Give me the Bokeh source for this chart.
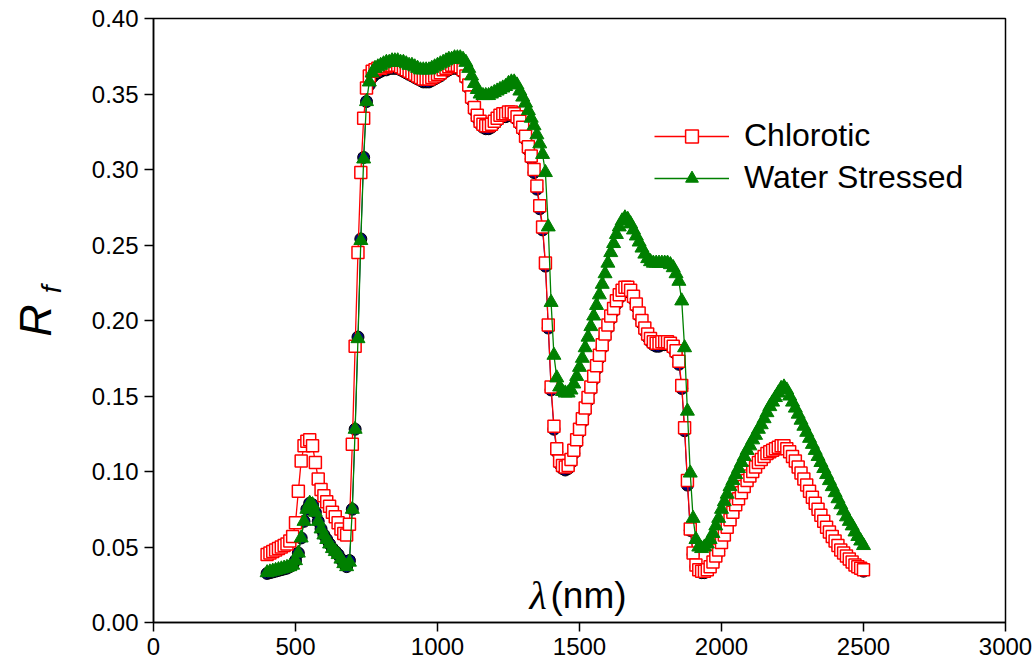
from bokeh.plotting import figure
from bokeh.models import (Range1d, Label, Legend, LegendItem, FixedTicker,
                          NumeralTickFormatter, LinearAxis)
from bokeh.embed import file_html
from bokeh.resources import INLINE

# wavelength grid (nm)
wavelength = list(range(400, 2501, 10))

chlorotic = [
    0.045, 0.046, 0.047, 0.048, 0.049, 0.050, 0.051, 0.052, 0.054, 0.057,
    0.066, 0.087, 0.107, 0.117, 0.120, 0.121, 0.117, 0.106, 0.095, 0.088,
    0.084, 0.080, 0.077, 0.073, 0.070, 0.066, 0.062, 0.059, 0.058, 0.065,
    0.118, 0.183, 0.245, 0.298, 0.334, 0.354, 0.362, 0.365, 0.366, 0.367,
    0.367, 0.368, 0.368, 0.369, 0.369, 0.369, 0.369, 0.368, 0.367, 0.366,
    0.365, 0.364, 0.363, 0.362, 0.361, 0.360, 0.360, 0.360, 0.361, 0.362,
    0.363, 0.364, 0.366, 0.367, 0.368, 0.369, 0.369, 0.369, 0.368, 0.366,
    0.362, 0.356, 0.348, 0.341, 0.336, 0.332, 0.330, 0.329, 0.329, 0.330,
    0.332, 0.334, 0.336, 0.337, 0.337, 0.338, 0.338, 0.337, 0.335, 0.332,
    0.328, 0.322, 0.315, 0.309, 0.300, 0.289, 0.276, 0.262, 0.238, 0.197,
    0.156, 0.130, 0.115, 0.107, 0.104, 0.103, 0.104, 0.108, 0.114, 0.121,
    0.128, 0.135, 0.142, 0.149, 0.156, 0.163, 0.170, 0.177, 0.184, 0.191,
    0.197, 0.203, 0.208, 0.213, 0.217, 0.220, 0.222, 0.222, 0.220, 0.216,
    0.211, 0.205, 0.200, 0.195, 0.191, 0.188, 0.186, 0.185, 0.185, 0.186,
    0.186, 0.186, 0.185, 0.183, 0.180, 0.173, 0.157, 0.129, 0.094, 0.062,
    0.046, 0.038, 0.035, 0.034, 0.034, 0.035, 0.037, 0.040, 0.044, 0.048,
    0.053, 0.058, 0.063, 0.068, 0.073, 0.078, 0.082, 0.086, 0.090, 0.094,
    0.097, 0.100, 0.103, 0.106, 0.108, 0.110, 0.112, 0.113, 0.114, 0.115,
    0.116, 0.117, 0.117, 0.115, 0.113, 0.110, 0.107, 0.103, 0.099, 0.095,
    0.091, 0.087, 0.083, 0.079, 0.075, 0.071, 0.067, 0.063, 0.060, 0.057,
    0.054, 0.051, 0.048, 0.046, 0.044, 0.042, 0.040, 0.038, 0.037, 0.036,
    0.035,
]

water_stressed = [
    0.033, 0.0335, 0.034, 0.0345, 0.035, 0.0355, 0.036, 0.0365, 0.037, 0.038,
    0.041, 0.046, 0.056, 0.067, 0.075, 0.079, 0.078, 0.073, 0.067, 0.062,
    0.058, 0.055, 0.052, 0.049, 0.047, 0.045, 0.042, 0.039, 0.037, 0.040,
    0.075, 0.128, 0.188, 0.253, 0.307, 0.345, 0.358, 0.364, 0.367, 0.368,
    0.369, 0.370, 0.371, 0.371, 0.372, 0.372, 0.372, 0.371, 0.371, 0.370,
    0.369, 0.369, 0.368, 0.367, 0.366, 0.366, 0.366, 0.366, 0.367, 0.368,
    0.369, 0.370, 0.371, 0.372, 0.373, 0.373, 0.374, 0.374, 0.374, 0.373,
    0.371, 0.367, 0.362, 0.357, 0.353, 0.350, 0.349, 0.349, 0.349, 0.350,
    0.351, 0.352, 0.353, 0.354, 0.355, 0.357, 0.358, 0.358, 0.356, 0.352,
    0.348, 0.344, 0.339, 0.334, 0.329, 0.323, 0.317, 0.310, 0.298, 0.262,
    0.212, 0.177, 0.162, 0.156, 0.153, 0.152, 0.152, 0.154, 0.158, 0.163,
    0.169, 0.175, 0.182, 0.189, 0.196, 0.203, 0.210, 0.217, 0.224, 0.231,
    0.238, 0.245, 0.251, 0.257, 0.262, 0.266, 0.268, 0.267, 0.264, 0.260,
    0.256, 0.252, 0.248, 0.244, 0.241, 0.239, 0.238, 0.238, 0.238, 0.238,
    0.238, 0.238, 0.237, 0.235, 0.231, 0.226, 0.213, 0.182, 0.140, 0.099,
    0.069, 0.055, 0.050, 0.049, 0.050, 0.052, 0.055, 0.059, 0.064, 0.069,
    0.075, 0.080, 0.085, 0.090, 0.094, 0.098, 0.102, 0.106, 0.110, 0.114,
    0.117, 0.121, 0.124, 0.128, 0.131, 0.135, 0.139, 0.143, 0.146, 0.149,
    0.152, 0.155, 0.156, 0.154, 0.150, 0.146, 0.142, 0.138, 0.134, 0.130,
    0.126, 0.122, 0.118, 0.114, 0.110, 0.106, 0.102, 0.098, 0.094, 0.090,
    0.086, 0.082, 0.078, 0.074, 0.070, 0.067, 0.064, 0.060, 0.057, 0.054,
    0.051,
]

healthy = [
    0.0325, 0.033, 0.0335, 0.034, 0.0345, 0.035, 0.0355, 0.036, 0.037, 0.038,
    0.041, 0.046, 0.056, 0.067, 0.075, 0.079, 0.078, 0.073, 0.067, 0.062,
    0.058, 0.055, 0.052, 0.049, 0.047, 0.045, 0.042, 0.039, 0.037, 0.041,
    0.075, 0.128, 0.189, 0.254, 0.308, 0.345, 0.356, 0.361, 0.363, 0.364,
    0.365, 0.366, 0.366, 0.367, 0.367, 0.367, 0.367, 0.366, 0.365, 0.364,
    0.363, 0.362, 0.361, 0.360, 0.359, 0.358, 0.358, 0.358, 0.359, 0.360,
    0.361, 0.362, 0.364, 0.365, 0.366, 0.367, 0.367, 0.367, 0.366, 0.364,
    0.360, 0.354, 0.346, 0.339, 0.334, 0.330, 0.328, 0.327, 0.327, 0.328,
    0.330, 0.332, 0.334, 0.335, 0.335, 0.336, 0.336, 0.335, 0.333, 0.330,
    0.326, 0.320, 0.313, 0.307, 0.298, 0.287, 0.274, 0.260, 0.236, 0.195,
    0.154, 0.128, 0.113, 0.105, 0.102, 0.101, 0.102, 0.106, 0.112, 0.119,
    0.126, 0.133, 0.140, 0.147, 0.154, 0.161, 0.168, 0.175, 0.182, 0.189,
    0.195, 0.201, 0.206, 0.211, 0.215, 0.218, 0.220, 0.220, 0.218, 0.214,
    0.209, 0.203, 0.198, 0.193, 0.189, 0.186, 0.184, 0.183, 0.183, 0.184,
    0.184, 0.184, 0.183, 0.181, 0.178, 0.171, 0.155, 0.127, 0.091, 0.061,
    0.045, 0.037, 0.034, 0.033, 0.033, 0.034, 0.036, 0.039, 0.043, 0.047,
    0.052, 0.057, 0.062, 0.067, 0.072, 0.077, 0.081, 0.085, 0.089, 0.093,
    0.096, 0.099, 0.102, 0.105, 0.107, 0.109, 0.111, 0.112, 0.113, 0.114,
    0.115, 0.116, 0.116, 0.114, 0.112, 0.109, 0.106, 0.102, 0.098, 0.094,
    0.090, 0.086, 0.082, 0.078, 0.074, 0.070, 0.066, 0.062, 0.059, 0.056,
    0.053, 0.050, 0.047, 0.045, 0.043, 0.041, 0.039, 0.037, 0.036, 0.035,
    0.034,
]

x_ticks = [0, 500, 1000, 1500, 2000, 2500, 3000]
y_ticks = [0.0, 0.05, 0.10, 0.15, 0.20, 0.25, 0.30, 0.35, 0.40]

FONT = "Liberation Sans"
NBSP = "\u00a0"

p = figure(width=1032, height=669, output_backend="svg", toolbar_location=None,
           x_range=Range1d(0, 3000), y_range=Range1d(0, 0.40),
           min_border_left=153, min_border_right=27, min_border_top=18,
           min_border_bottom=47)

p.background_fill_color = "white"
p.border_fill_color = "white"
p.grid.visible = False
p.outline_line_color = "black"
p.outline_line_width = 1.5

for ax in (p.xaxis, p.yaxis):
    ax.axis_line_color = "black"
    ax.axis_line_width = 1.5
    ax.major_tick_line_color = "black"
    ax.major_tick_line_width = 1.5
    ax.major_tick_out = 9
    ax.major_tick_in = 0
    ax.minor_tick_out = 0
    ax.minor_tick_in = 0
    ax.major_label_text_font = FONT
    ax.major_label_text_font_size = "24px"
    ax.major_label_text_color = "black"

p.xaxis.ticker = FixedTicker(ticks=x_ticks)
p.yaxis.ticker = FixedTicker(ticks=y_ticks)
p.xaxis.formatter = NumeralTickFormatter(format="0")
p.yaxis.formatter = NumeralTickFormatter(format="0.00")
p.xaxis.major_label_standoff = 6
p.yaxis.major_label_standoff = 6

# y-axis title "R" with subscript "f": two tick-less axes on the left
f_axis = LinearAxis(ticker=FixedTicker(ticks=[]),
                    axis_line_alpha=0, major_tick_out=0, major_tick_in=0,
                    minor_tick_out=0, minor_tick_in=0,
                    axis_label=NBSP * 8 + "f", axis_label_text_font=FONT,
                    axis_label_text_font_style="italic",
                    axis_label_text_font_size="28px",
                    axis_label_text_color="black", axis_label_standoff=22)
p.add_layout(f_axis, "left")
r_axis = LinearAxis(ticker=FixedTicker(ticks=[]),
                    axis_line_alpha=0, major_tick_out=0, major_tick_in=0,
                    minor_tick_out=0, minor_tick_in=0,
                    axis_label="R", axis_label_text_font=FONT,
                    axis_label_text_font_style="italic",
                    axis_label_text_font_size="45px",
                    axis_label_text_color="black", axis_label_standoff=-28)
p.add_layout(r_axis, "left")

# hidden third series (dark circles) drawn underneath
p.line(wavelength, healthy, line_color="#000080", line_width=1)
p.scatter(wavelength, healthy, marker="circle", size=12,
          fill_color="#000080", line_color="black", line_width=1)

r_c_line = p.line(wavelength, chlorotic, line_color="red", line_width=1.3)
r_c = p.scatter(wavelength, chlorotic, marker="square", size=12,
                fill_color="white", line_color="red", line_width=1.5)

r_w_line = p.line(wavelength, water_stressed, line_color="green", line_width=1.3)
r_w = p.scatter(wavelength, water_stressed, marker="triangle", size=14,
                fill_color="green", line_color="green", line_width=1)

legend = Legend(items=[
    LegendItem(label="Chlorotic", renderers=[r_c_line, r_c]),
    LegendItem(label="Water Stressed", renderers=[r_w_line, r_w]),
], location=(501, 426))
legend.glyph_width = 75
legend.glyph_height = 32
legend.label_height = 32
legend.spacing = 5
legend.padding = 0
legend.margin = 0
legend.label_standoff = 15
legend.border_line_alpha = 0
legend.background_fill_alpha = 0
legend.label_text_font = FONT
legend.label_text_font_size = "32px"
legend.label_text_color = "black"
p.add_layout(legend)

# x-axis title inside the frame
p.add_layout(Label(x=376, y=27, x_units="screen", y_units="screen", text="λ",
                   text_font="Liberation Serif", text_font_style="italic",
                   text_font_size="40px", text_color="black",
                   text_baseline="alphabetic"))
p.add_layout(Label(x=397, y=27, x_units="screen", y_units="screen", text="(nm)",
                   text_font=FONT, text_font_size="37px",
                   text_color="black", text_baseline="alphabetic"))

open("out.html", "w").write(file_html(p, INLINE))
